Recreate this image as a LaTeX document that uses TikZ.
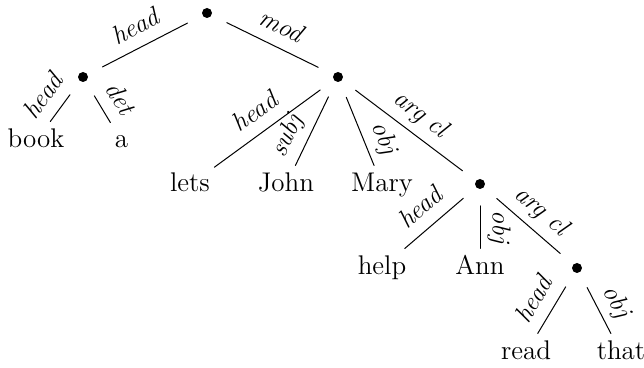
\documentclass[tikz,border=0pt]{standalone}
\begin{document}
\begin{tikzpicture}[x=0.5pt, y=0.5pt, line join=round, line cap=round, line width=0.5pt,
	dot/.style={circle, fill, inner sep=0pt, minimum size=5pt, outer sep=8.5pt},
	word/.style={font=\fontsize{13.5}{16}\selectfont, anchor=base, text height=10pt, text depth=3pt, inner xsep=2pt, inner ysep=3pt},
	lab/.style={font=\fontsize{13}{15}\selectfont\itshape, sloped, above, text height=9pt, text depth=2.5pt, inner xsep=1pt, inner ysep=3.6pt}]
	\useasboundingbox (0,0) rectangle (644,368);
	\path
	(207,355) node[dot] (root) {}
	(83,291) node[dot] (ldot) {}
	(338,291) node[dot] (mdot) {}
	(480,184) node[dot] (adot) {}
	(577,100) node[dot] (rdot) {};
	\path
	(36,220) node[word] (book) {book}
	(121.5,220) node[word] (a) {a}
	(190,176) node[word] (lets) {lets}
	(286,176) node[word] (John) {John}
	(382,176) node[word] (Mary) {Mary}
	(382,93) node[word] (help) {help}
	(480,93) node[word] (Ann) {Ann}
	(526,8) node[word] (read) {read}
	(621,8) node[word] (that) {that};

	\draw (root) -- node[lab] {head} (ldot);
	\draw (root) -- node[lab] {mod} (mdot);
	\draw (ldot) -- node[lab] {head} (book);
	\draw (ldot) -- node[lab] {det} (a);
	\draw (mdot) -- node[lab] {head} (lets);
	\draw (mdot) -- node[lab, pos=0.7] {subj} (John);
	\draw (mdot) -- node[lab, pos=0.7] {obj} (Mary);
	\draw (mdot) -- node[lab] {arg cl} (adot);
	\draw (adot) -- node[lab] {head} (help);
	\draw (adot) -- node[lab, allow upside down] {obj} (Ann);
	\draw (adot) -- node[lab] {arg cl} (rdot);
	\draw (rdot) -- node[lab] {head} (read);
	\draw (rdot) -- node[lab] {obj} (that);
\end{tikzpicture}
\end{document}
